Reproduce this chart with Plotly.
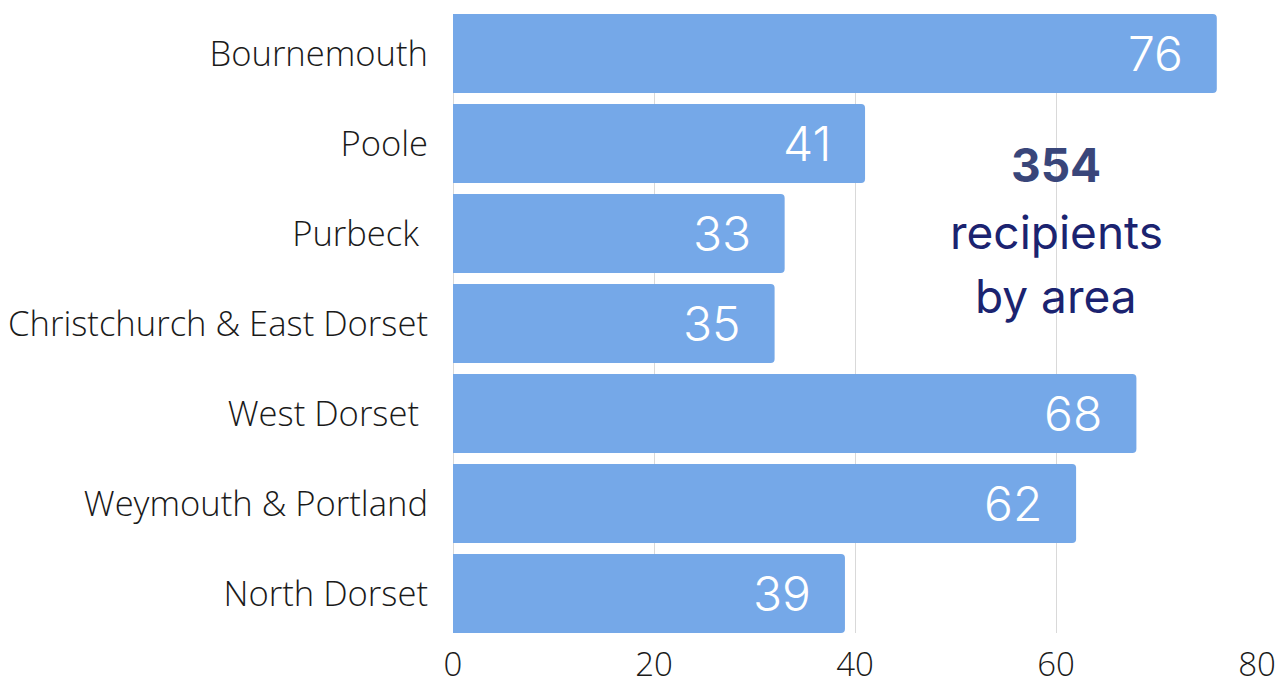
import plotly.graph_objects as go

areas = ["Bournemouth", "Poole", "Purbeck ", "Christchurch & East Dorset",
         "West Dorset ", "Weymouth & Portland", "North Dorset"]
bar_values = [76, 41, 33, 32, 68, 62, 39]
bar_labels = ["76", "41", "33", "35", "68", "62", "39"]
x_ticks = [0, 20, 40, 60, 80]
total_text = "354"

BAR = "#75A8E8"
W, H = 1288, 688
ml, mr, mt, mb = 453, 31, 14, 55

fig = go.Figure()
fig.add_trace(go.Bar(
    y=areas, x=bar_values, orientation="h",
    marker=dict(color=BAR, line=dict(width=0), cornerradius=4),
    hoverinfo="skip",
))

for a, v, lab in zip(areas, bar_values, bar_labels):
    fig.add_annotation(
        x=v, y=a, xref="x", yref="y", text=lab, showarrow=False,
        xanchor="right", yanchor="middle", xshift=-32,
        font=dict(family="Inter", size=48, color="white", weight=300),
    )

ph = H - mt - mb
def py(ypix):
    return (H - mb - ypix) / ph

num_font = dict(family="Inter", size=46, color="#39467A", weight=700)
txt_font = dict(family="Inter", size=46, color="#1B2370", weight=400)
fig.add_annotation(x=60, xref="x", y=py(165), yref="paper", text=total_text,
                   showarrow=False, xanchor="center", yanchor="middle", font=num_font)
fig.add_annotation(x=60, xref="x", y=py(232), yref="paper", text="recipients",
                   showarrow=False, xanchor="center", yanchor="middle", font=txt_font)
fig.add_annotation(x=60, xref="x", y=py(296), yref="paper", text="by area",
                   showarrow=False, xanchor="center", yanchor="middle", font=txt_font)

ytick_font = dict(family="Open Sans", size=34.6, color="#1a1a1a", weight=300)
xtick_font = dict(family="Open Sans", size=33, color="#1a1a1a", weight=300)

fig.update_layout(
    width=W, height=H,
    margin=dict(l=ml, r=mr, t=mt, b=mb, pad=0, autoexpand=False),
    paper_bgcolor="white", plot_bgcolor="white",
    bargap=0.122, showlegend=False,
    font=ytick_font,
)
fig.update_xaxes(
    range=[0, 80], tickvals=x_ticks, ticktext=[str(t) for t in x_ticks],
    showgrid=True, gridcolor="#D9D9D9", gridwidth=1,
    zeroline=True, zerolinecolor="#D9D9D9", zerolinewidth=1,
    showline=False, ticks="", ticklabelstandoff=9, automargin=False,
    tickfont=xtick_font, fixedrange=True,
)
fig.update_yaxes(
    categoryorder="array", categoryarray=areas, autorange=False,
    range=[6.439, -0.439],
    showgrid=False, zeroline=False, showline=False, ticks="",
    ticklabelstandoff=24, automargin=False,
    tickfont=ytick_font, fixedrange=True,
)

fig.write_html("out.html", config={"displayModeBar": False})
